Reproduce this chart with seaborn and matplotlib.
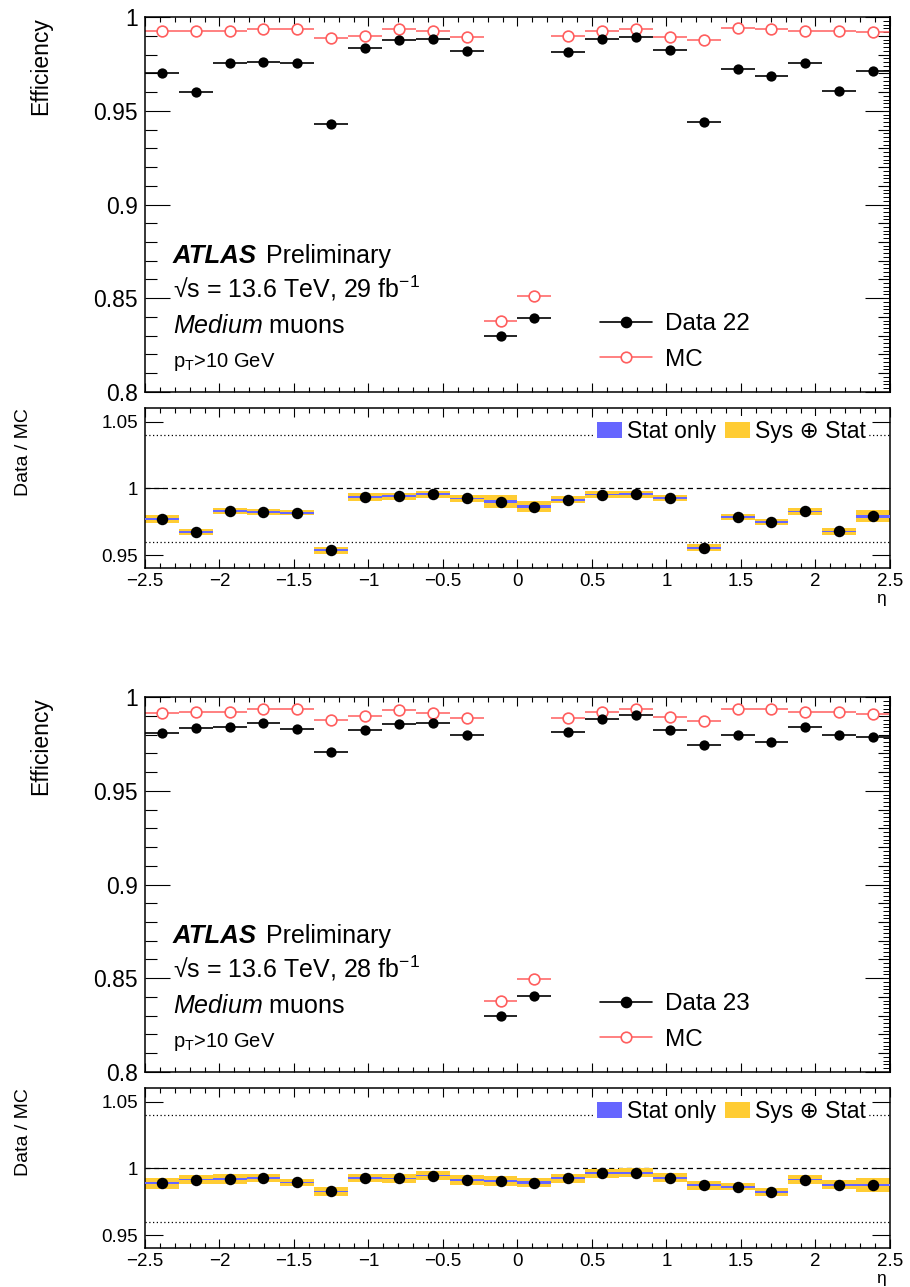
import numpy as np
import pandas as pd
import matplotlib
matplotlib.use("Agg")
import matplotlib.pyplot as plt
import seaborn as sns
from matplotlib.ticker import MultipleLocator, NullLocator, FuncFormatter
from matplotlib.patches import Patch
from matplotlib.lines import Line2D

# 22 equal eta bins between -2.5 and 2.5
ETA_EDGES = np.linspace(-2.5, 2.5, 23)

# 2022 data / MC efficiencies
DATA22 = [0.9700, 0.9603, 0.9758, 0.9763, 0.9758, 0.9430, 0.9838, 0.9879, 0.9882, 0.9822, 0.8296,
          0.8394, 0.9815, 0.9882, 0.9893, 0.9826, 0.9440, 0.9726, 0.9688, 0.9756, 0.9607, 0.9713]
MC22 = [0.9927, 0.9927, 0.9927, 0.9939, 0.9939, 0.9890, 0.9902, 0.9939, 0.9927, 0.9897, 0.8380,
        0.8510, 0.9900, 0.9928, 0.9938, 0.9897, 0.9879, 0.9941, 0.9938, 0.9928, 0.9928, 0.9922]
SYS22 = [0.0032, 0.0025, 0.0025, 0.0022, 0.0017, 0.0025, 0.0027, 0.0029, 0.0027, 0.0027, 0.0050,
         0.0040, 0.0027, 0.0027, 0.0029, 0.0025, 0.0025, 0.0021, 0.0025, 0.0027, 0.0027, 0.0045]
STAT22 = [0.0007, 0.0007, 0.0007, 0.0007, 0.0007, 0.0007, 0.0007, 0.0007, 0.0007, 0.0007, 0.0012,
          0.0010, 0.0007, 0.0007, 0.0007, 0.0007, 0.0007, 0.0007, 0.0007, 0.0007, 0.0007, 0.0010]

# 2023 data / MC efficiencies
DATA23 = [0.9808, 0.9838, 0.9842, 0.9865, 0.9831, 0.9708, 0.9826, 0.9859, 0.9865, 0.9800, 0.8296,
          0.8406, 0.9817, 0.9886, 0.9904, 0.9826, 0.9747, 0.9800, 0.9761, 0.9840, 0.9799, 0.9788]
MC23 = [0.9918, 0.9921, 0.9923, 0.9936, 0.9936, 0.9879, 0.9899, 0.9934, 0.9918, 0.9887, 0.8376,
        0.8497, 0.9891, 0.9923, 0.9936, 0.9895, 0.9872, 0.9936, 0.9936, 0.9923, 0.9920, 0.9912]
SYS23 = [0.0041, 0.0034, 0.0036, 0.0032, 0.0025, 0.0031, 0.0032, 0.0035, 0.0034, 0.0035, 0.0037,
         0.0035, 0.0035, 0.0032, 0.0032, 0.0032, 0.0032, 0.0025, 0.0029, 0.0034, 0.0032, 0.0050]
STAT23 = [0.0008, 0.0007, 0.0007, 0.0007, 0.0007, 0.0007, 0.0007, 0.0007, 0.0007, 0.0007, 0.0010,
          0.0010, 0.0007, 0.0007, 0.0007, 0.0007, 0.0007, 0.0007, 0.0007, 0.0007, 0.0007, 0.0010]

MC_COLOR = "#ff5e5e"
STAT_COLOR = "#6666ff"
SYS_COLOR = "#ffcc33"

sns.set_theme(style="ticks")
plt.rcParams["font.family"] = ["Liberation Sans", "DejaVu Sans"]
plt.rcParams["mathtext.fontset"] = "custom"
plt.rcParams["mathtext.rm"] = "Liberation Sans"
plt.rcParams["mathtext.it"] = "Liberation Sans:italic"
plt.rcParams["mathtext.bf"] = "Liberation Sans:bold"
plt.rcParams["axes.linewidth"] = 1.1
for key in ["text.color", "axes.labelcolor", "axes.edgecolor", "xtick.color", "ytick.color"]:
    plt.rcParams[key] = "black"

fig = plt.figure(figsize=(9.1, 12.87), dpi=100)

gfmt = FuncFormatter(lambda v, p: f"{v:g}".replace("-", "\u2212"))


def style_x(ax, labels):
    ax.set_xlim(-2.5, 2.5)
    ax.xaxis.set_major_locator(MultipleLocator(0.5))
    ax.xaxis.set_minor_locator(MultipleLocator(0.1))
    ax.tick_params(axis="x", which="major", direction="in", top=True, bottom=True,
                   length=6.5, width=0.8, labelbottom=labels, labelsize=13.5, pad=3.5)
    ax.tick_params(axis="x", which="minor", direction="in", top=True, bottom=True,
                   length=3.6, width=0.8)
    ax.xaxis.set_major_formatter(gfmt)


def draw_panel(top, data, mc, sys_err, stat_err, data_label, lumi):
    ax = fig.add_axes([0.1593, top - 0.2910, 0.8187, 0.2910])
    axr = fig.add_axes([0.1593, top - 0.4282, 0.8187, 0.1243])

    centers = 0.5 * (ETA_EDGES[:-1] + ETA_EDGES[1:])
    df = pd.DataFrame({
        "eta": centers,
        "lo": ETA_EDGES[:-1],
        "hi": ETA_EDGES[1:],
        "data": data,
        "mc": mc,
        "sys": sys_err,
        "stat": stat_err,
    })
    df["ratio"] = df["data"] / df["mc"]

    # efficiency panel
    ax.hlines(df["mc"], df["lo"], df["hi"], color=MC_COLOR, lw=1.1, zorder=2)
    sns.scatterplot(data=df, x="eta", y="mc", ax=ax, marker="o", s=60, facecolor="white",
                    edgecolor=MC_COLOR, linewidth=1.2, legend=False, zorder=3)
    ax.hlines(df["data"], df["lo"], df["hi"], color="black", lw=1.2, zorder=4)
    sns.scatterplot(data=df, x="eta", y="data", ax=ax, marker="o", s=55, color="black",
                    edgecolor="black", linewidth=0, legend=False, zorder=5)

    style_x(ax, False)
    ax.set_ylim(0.8, 1.0)
    ax.yaxis.set_major_locator(MultipleLocator(0.05))
    ax.yaxis.set_minor_locator(MultipleLocator(0.01))
    ax.yaxis.set_major_formatter(gfmt)
    ax.tick_params(axis="y", which="major", direction="in", right=False, length=18, width=0.8,
                   labelsize=16.5, pad=5)
    ax.tick_params(axis="y", which="minor", direction="in", right=False, length=8.6, width=0.8)
    sec = ax.secondary_yaxis("right")
    sec.yaxis.set_major_locator(MultipleLocator(0.05))
    sec.yaxis.set_minor_locator(MultipleLocator(0.01))
    sec.tick_params(which="major", direction="in", length=18, width=0.8, labelright=False)
    sec.tick_params(which="minor", direction="in", length=9, width=0.8)
    sec2 = ax.secondary_yaxis("right")
    sec2.yaxis.set_major_locator(NullLocator())
    sec2.yaxis.set_minor_locator(MultipleLocator(0.002))
    sec2.tick_params(which="minor", direction="in", length=5, width=0.7)
    ax.set_xlabel("")
    ax.set_ylabel("Efficiency", fontsize=16.5, loc="top")
    ax.yaxis.set_label_coords(-0.125, 1.0)

    ax.text(0.0376, 0.3446, "ATLAS", transform=ax.transAxes, fontsize=18.5,
            fontweight="bold", fontstyle="italic", va="baseline")
    ax.text(0.1630, 0.3446, "Preliminary", transform=ax.transAxes, fontsize=18, va="baseline")
    ax.text(0.0376, 0.251, "\u221as = 13.6 TeV, " + lumi + r" fb$^{\mathregular{-1}}$",
            transform=ax.transAxes, fontsize=18, va="baseline")
    ax.text(0.0376, 0.1576, r"$\mathit{Medium}$ muons", transform=ax.transAxes,
            fontsize=18, va="baseline")
    ax.text(0.0376, 0.0668, r"p$_{\mathregular{T}}$>10 GeV", transform=ax.transAxes,
            fontsize=14.5, va="baseline")

    handles = [
        Line2D([0], [0], color="black", lw=1.2, marker="o", markersize=7.4),
        Line2D([0], [0], color=MC_COLOR, lw=1.1, marker="o", markersize=7.6,
               markerfacecolor="white", markeredgecolor=MC_COLOR, markeredgewidth=1.2),
    ]
    ax.legend(handles, [data_label, "MC"], loc="upper left", bbox_to_anchor=(0.611, 0.210),
              frameon=False, fontsize=17.5, handlelength=2.15, handletextpad=0.5,
              labelspacing=0.55, borderpad=0, borderaxespad=0)

    # ratio panel
    axr.axhline(1.0, color="black", lw=0.9, ls=(0, (4, 3)), zorder=1)
    axr.axhline(1.04, color="black", lw=0.9, ls=(0, (1, 2)), zorder=1)
    axr.axhline(0.96, color="black", lw=0.9, ls=(0, (1, 2)), zorder=1)
    widths = df["hi"] - df["lo"]
    axr.bar(df["eta"], 2 * df["sys"], bottom=df["ratio"] - df["sys"], width=widths,
            color=SYS_COLOR, linewidth=0, zorder=2)
    axr.bar(df["eta"], 2 * df["stat"], bottom=df["ratio"] - df["stat"], width=widths,
            color=STAT_COLOR, linewidth=0, zorder=3)
    sns.scatterplot(data=df, x="eta", y="ratio", ax=axr, marker="o", s=68, color="black",
                    edgecolor="black", linewidth=0, legend=False, zorder=4)

    style_x(axr, True)
    axr.set_ylim(0.94, 1.06)
    axr.yaxis.set_major_locator(MultipleLocator(0.05))
    axr.yaxis.set_minor_locator(NullLocator())
    axr.yaxis.set_major_formatter(gfmt)
    axr.tick_params(axis="y", which="major", direction="in", right=True, length=13, width=0.8,
                    labelsize=13.5, pad=5)
    axr.set_xlabel("")
    axr.set_ylabel("Data / MC", fontsize=14, loc="top")
    axr.yaxis.set_label_coords(-0.152, 1.0)
    axr.text(0.995, -0.218, "\u03b7", transform=axr.transAxes, fontsize=12.5,
             ha="right", va="baseline")

    band_handles = [Patch(facecolor=STAT_COLOR, edgecolor="none"),
                    Patch(facecolor=SYS_COLOR, edgecolor="none")]
    leg = axr.legend(band_handles, ["Stat only", "Sys \u2295 Stat"], loc="center right",
                     bbox_to_anchor=(0.972, 0.858), ncol=2, fontsize=16.5, frameon=True,
                     facecolor="white", edgecolor="none", framealpha=1, fancybox=False,
                     handlelength=1.1, handleheight=0.7, handletextpad=0.2,
                     columnspacing=0.4, borderpad=0.15, borderaxespad=0)
    leg.set_zorder(5)


draw_panel(0.9866, DATA22, MC22, SYS22, STAT22, "Data 22", "29")
draw_panel(0.4582, DATA23, MC23, SYS23, STAT23, "Data 23", "28")

fig.savefig("out.png", dpi=100)
